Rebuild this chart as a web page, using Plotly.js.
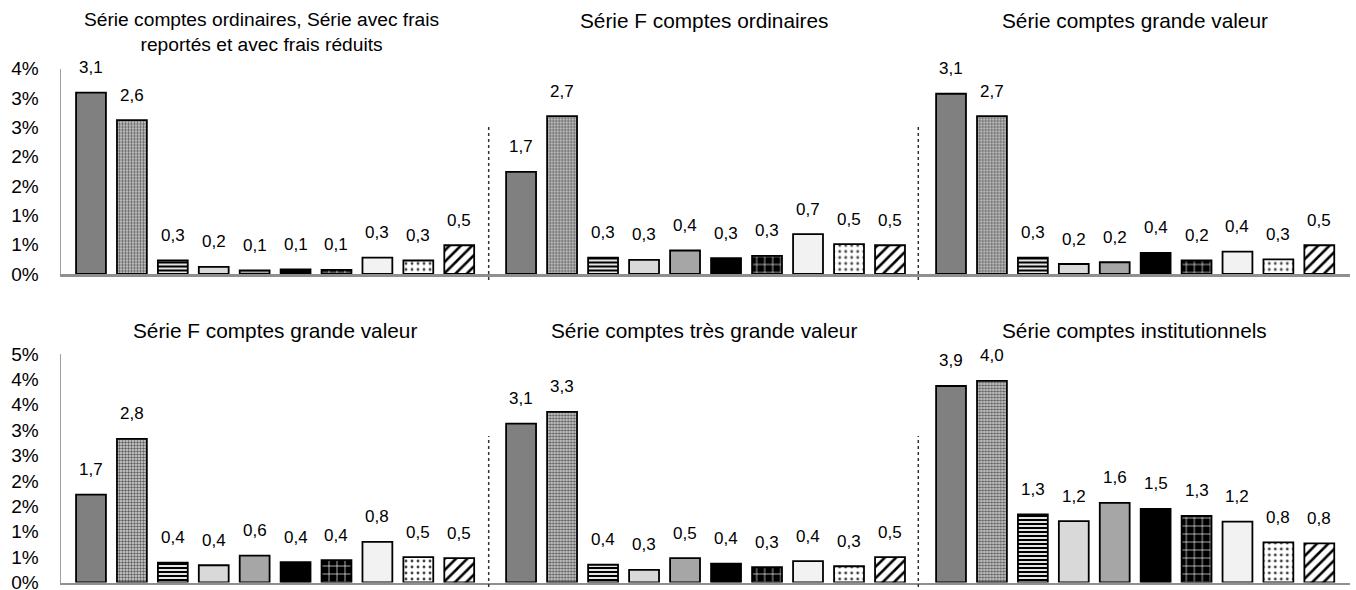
<!DOCTYPE html>
<html>
<head>
<meta charset="utf-8">
<script src="https://cdn.plot.ly/plotly-3.0.1.min.js"></script>
<style>html,body{margin:0;padding:0;background:#fff;}#chart{width:1356px;height:590px;}</style>
</head>
<body>
<div id="chart"></div>
<script>
// ---- data ----
const categories = [0, 1, 2, 3, 4, 5, 6, 7, 8, 9];

const panelTitles = [
  "Série comptes ordinaires, Série avec frais<br>reportés et avec frais réduits",
  "Série F comptes ordinaires",
  "Série comptes grande valeur",
  "Série F comptes grande valeur",
  "Série comptes très grande valeur",
  "Série comptes institutionnels"
];

const valuesOrdinaires        = [3.09, 2.62, 0.23, 0.12, 0.06, 0.08, 0.07, 0.28, 0.23, 0.49];
const valuesFOrdinaires       = [1.74, 2.69, 0.28, 0.24, 0.40, 0.27, 0.31, 0.68, 0.51, 0.49];
const valuesGrandeValeur      = [3.07, 2.69, 0.28, 0.17, 0.20, 0.36, 0.23, 0.38, 0.25, 0.49];
const valuesFGrandeValeur     = [1.73, 2.83, 0.39, 0.34, 0.53, 0.40, 0.44, 0.80, 0.50, 0.48];
const valuesTresGrandeValeur  = [3.13, 3.36, 0.35, 0.25, 0.48, 0.37, 0.30, 0.42, 0.32, 0.50];
const valuesInstitutionnels   = [3.87, 3.97, 1.34, 1.21, 1.57, 1.45, 1.31, 1.20, 0.79, 0.77];

const labelsOrdinaires        = ["3,1","2,6","0,3","0,2","0,1","0,1","0,1","0,3","0,3","0,5"];
const labelsFOrdinaires       = ["1,7","2,7","0,3","0,3","0,4","0,3","0,3","0,7","0,5","0,5"];
const labelsGrandeValeur      = ["3,1","2,7","0,3","0,2","0,2","0,4","0,2","0,4","0,3","0,5"];
const labelsFGrandeValeur     = ["1,7","2,8","0,4","0,4","0,6","0,4","0,4","0,8","0,5","0,5"];
const labelsTresGrandeValeur  = ["3,1","3,3","0,4","0,3","0,5","0,4","0,3","0,4","0,3","0,5"];
const labelsInstitutionnels   = ["3,9","4,0","1,3","1,2","1,6","1,5","1,3","1,2","0,8","0,8"];

const tickValsTop    = [0, 0.5, 1, 1.5, 2, 2.5, 3, 3.5];
const tickTextTop    = ["0%","1%","1%","2%","2%","3%","3%","4%"];
const tickValsBottom = [0, 0.5, 1, 1.5, 2, 2.5, 3, 3.5, 4, 4.5];
const tickTextBottom = ["0%","1%","1%","2%","2%","3%","3%","4%","4%","5%"];

// ---- styles (one per category) ----
const catStyles = [
  {color: "#808080"},
  {color: "#d8d8d8", pattern: {shape: ".", fgcolor: "#606060", bgcolor: "#d8d8d8", size: 3, solidity: 0.5}},
  {color: "#ffffff", pattern: {shape: "-", fgcolor: "#000000", bgcolor: "#ffffff", size: 4, solidity: 0.55}},
  {color: "#d9d9d9"},
  {color: "#a6a6a6"},
  {color: "#000000"},
  {color: "#000000", pattern: {shape: "+", fgcolor: "#ffffff", bgcolor: "#000000", size: 8, solidity: 0.16}},
  {color: "#f2f2f2"},
  {color: "#ffffff", pattern: {shape: ".", fgcolor: "#444444", bgcolor: "#ffffff", size: 6, solidity: 0.18}},
  {color: "#ffffff", pattern: {shape: "/", fgcolor: "#000000", bgcolor: "#ffffff", size: 8, solidity: 0.32}}
];

const W = 1356, H = 590;
const colDomains = [[61/W, 488.7/W], [488.7/W, 918.3/W], [918.3/W, 1350/W]];
const colRanges  = [[-0.733, 9.72], [-0.79, 9.69], [-0.80, 9.75]];
const rowDomains = [[316/H, 521.5/H], [7.5/H, 236/H]];
const rowRanges  = [[0, 3.5], [0, 4.5]];
const titlePos = [[261, 32.5], [704, 20], [1134.5, 20.5], [275, 330], [704, 330.5], [1134, 330]];
const titleSizes = [19.2, 20.8, 20.8, 20.8, 20.8, 20.8];

const panelValues = [valuesOrdinaires, valuesFOrdinaires, valuesGrandeValeur, valuesFGrandeValeur, valuesTresGrandeValeur, valuesInstitutionnels];
const panelLabels = [labelsOrdinaires, labelsFOrdinaires, labelsGrandeValeur, labelsFGrandeValeur, labelsTresGrandeValeur, labelsInstitutionnels];

const FONT = "Liberation Sans, Arial, sans-serif";
const traces = [];
const layout = {
  width: W, height: H,
  margin: {l: 0, r: 0, t: 0, b: 0},
  paper_bgcolor: "#fff", plot_bgcolor: "rgba(0,0,0,0)",
  showlegend: false, barmode: "overlay",
  font: {family: FONT, color: "#000", size: 17},
  annotations: [], shapes: []
};

for (let p = 0; p < 6; p++) {
  const n = p + 1;
  const row = Math.floor(p / 3), col = p % 3;
  const xa = n === 1 ? "x" : "x" + n;
  const ya = n === 1 ? "y" : "y" + n;
  categories.forEach((c, i) => {
    const st = catStyles[i];
    const marker = {color: st.color, line: {color: "#000", width: 1.8}};
    if (st.pattern) marker.pattern = Object.assign({fillmode: "replace"}, st.pattern);
    traces.push({
      type: "bar", x: [c], y: [panelValues[p][i]],
      xaxis: xa, yaxis: ya, width: 0.73, opacity: 1,
      hoverinfo: "skip", marker: marker
    });
  });
  const xKey = n === 1 ? "xaxis" : "xaxis" + n;
  const yKey = n === 1 ? "yaxis" : "yaxis" + n;
  layout[xKey] = {
    domain: colDomains[col], range: colRanges[col], anchor: ya,
    showline: true, linecolor: "#8f8f8f", linewidth: 2.5,
    showgrid: false, zeroline: false, showticklabels: false, ticks: "", fixedrange: true
  };
  const left = col === 0;
  layout[yKey] = {
    domain: rowDomains[row], range: rowRanges[row], anchor: xa,
    showline: left, linecolor: "#a0a0a0", linewidth: 1.5,
    showgrid: false, zeroline: false, showticklabels: left, ticks: "",
    tickvals: row === 0 ? tickValsTop : tickValsBottom,
    ticktext: row === 0 ? tickTextTop : tickTextBottom,
    tickfont: {family: FONT, size: 19, color: "#000"},
    ticklabelstandoff: 17, ticklabeloverflow: "allow", fixedrange: true
  };
  panelValues[p].forEach((v, i) => {
    layout.annotations.push({
      x: categories[i], y: v, xref: xa, yref: ya,
      text: panelLabels[p][i], showarrow: false,
      yanchor: "middle", xanchor: "center", yshift: 25,
      font: {family: FONT, size: 17, color: "#000"}
    });
  });
  layout.annotations.push({
    x: titlePos[p][0] / W, y: 1 - titlePos[p][1] / H, xref: "paper", yref: "paper",
    text: panelTitles[p], showarrow: false, xanchor: "center", yanchor: "middle",
    font: {family: FONT, size: titleSizes[p], color: "#000"}
  });
  if (!left) {
    const y0 = row === 0 ? 1 - 280/H : 1 - 587/H;
    const y1 = row === 0 ? 1 - 127/H : 1 - 436/H;
    layout.shapes.push({
      type: "line", xref: xa + " domain", yref: "paper",
      x0: 0, x1: 0, y0: y0, y1: y1,
      line: {color: "#333", width: 1.5, dash: "dot"}
    });
  }
}

Plotly.newPlot("chart", traces, layout, {staticPlot: true, displayModeBar: false});
</script>
</body>
</html>
